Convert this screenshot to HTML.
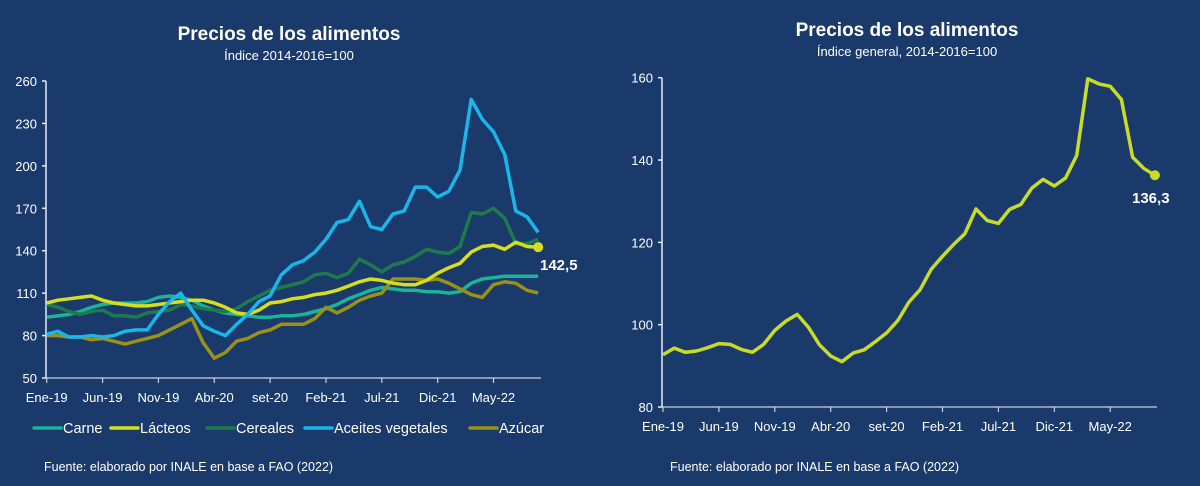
<!DOCTYPE html>
<html><head><meta charset="utf-8">
<style>
html,body{margin:0;padding:0;background:#1a3a6b;}
body{width:1200px;height:486px;overflow:hidden;font-family:"Liberation Sans",sans-serif;}
svg{display:block}
</style></head>
<body>
<svg id="chart" width="1200" height="486" xmlns="http://www.w3.org/2000/svg">
<rect x="0" y="0" width="1200" height="486" fill="#1a3a6b"/>
<text x="289" y="40" text-anchor="middle" fill="#fff" font-size="19" font-weight="bold">Precios de los alimentos</text>
<text x="289" y="60" text-anchor="middle" fill="#fff" font-size="13">Índice 2014-2016=100</text>
<text x="907" y="36" text-anchor="middle" fill="#fff" font-size="19" font-weight="bold">Precios de los alimentos</text>
<text x="907" y="56" text-anchor="middle" fill="#fff" font-size="13">Índice general, 2014-2016=100</text>
<text x="44" y="471" fill="#fff" font-size="12.5">Fuente: elaborado por INALE en base a FAO (2022)</text>
<text x="670" y="471" fill="#fff" font-size="12.5">Fuente: elaborado por INALE en base a FAO (2022)</text>
<g id="left"></g>
<g id="right"></g>
</svg>
<script>
const xLabels = ["Ene-19","Jun-19","Nov-19","Abr-20","set-20","Feb-21","Jul-21","Dic-21","May-22"];
const leftTicks = [50,80,110,140,170,200,230,260];
const rightTicks = [80,100,120,140,160];
const seriesNames = ["Carne","Lácteos","Cereales","Aceites vegetales","Azúcar"];
const carne = [93,94,95,97,100,102,103,103,103,104,107,108,107,105,101,98,96,95,94,93,93,94,94,95,97,99,102,106,109,112,114,113,112,112,111,111,110,111,117,120,121,122,122,122,122];
const lacteos = [103,105,106,107,108,105,103,102,101,101,102,103,104,105,105,103,100,96,95,98,103,104,106,107,109,110,112,115,118,120,119,117,116,116,119,124,128,131,139,143,144,141,146,143,142.5];
const cereales = [102,100,97,95,97,98,94,94,93,96,97,98,102,101,99,98,97,99,104,108,112,114,116,118,123,124,121,124,134,130,125,130,132,136,141,139,138,143,167,166,170,163,145,145,148];
const aceites = [81,83,79,79,80,79,80,83,84,84,95,104,110,98,87,83,80,88,95,104,108,123,130,133,139,148,160,162,175,157,155,166,168,185,185,178,182,197,247,233,224,208,168,164,153];
const azucar = [80,80,79,79,77,78,76,74,76,78,80,84,88,92,75,64,68,76,78,82,84,88,88,88,92,100,96,100,105,108,110,120,120,120,119,120,117,113,109,107,116,118,117,112,110];
const general = [92.7,94.3,93.3,93.6,94.4,95.4,95.2,94.0,93.3,95.2,98.6,100.9,102.5,99.4,95.1,92.4,91.0,93.1,93.9,95.9,98.0,101.0,105.5,108.5,113.5,116.6,119.5,122.1,128.1,125.3,124.6,128.0,129.2,133.2,135.3,133.7,135.6,141.1,159.7,158.5,157.9,154.7,140.7,138.0,136.3];
const leftColors = ["#1bb39a","#d6de1e","#1e7a4c","#1ab6ea","#9a9116"];

const NS="http://www.w3.org/2000/svg";
function mk(tag,attrs,parent){const e=document.createElementNS(NS,tag);for(const k in attrs)e.setAttribute(k,attrs[k]);parent.appendChild(e);return e;}

function drawAxes(g,x0,xEnd,yFn,ticks,base,xFn,prefix){
  let ax=mk('line',{x1:x0,y1:yFn(ticks[0]),x2:x0,y2:yFn(ticks[ticks.length-1]),stroke:'#e8ecf3','stroke-width':1.5},g);
  
  
  ticks.forEach(t=>{
    let tl=mk('line',{x1:x0-4,y1:yFn(t),x2:x0,y2:yFn(t),stroke:'#e8ecf3','stroke-width':1.5},g);
    
    
    let tx=mk('text',{x:x0-9,y:yFn(t)+5,'text-anchor':'end',fill:'#fff','font-size':13},g);
    tx.textContent=t;
    
    
  });
  let xa=mk('line',{x1:x0,y1:yFn(base),x2:xEnd,y2:yFn(base),stroke:'#c9d0dc','stroke-width':1.2},g);
  
  
  xLabels.forEach((l,i)=>{
    const x=xFn(i*5);
    let tl=mk('line',{x1:x,y1:yFn(base),x2:x,y2:yFn(base)+5,stroke:'#c9d0dc','stroke-width':1.2},g);
    
    
    let tx=mk('text',{x:x,y:yFn(base)+24,'text-anchor':'middle',fill:'#fff','font-size':13},g);
    tx.textContent=l;
    
    
  });
}
function line(g,arr,xFn,yFn,color,w,name){
  const p=mk('polyline',{points:arr.map((v,i)=>xFn(i).toFixed(1)+','+yFn(v).toFixed(1)).join(' '),fill:'none',stroke:color,'stroke-width':w,'stroke-linejoin':'round'},g);
  
  
  return p;
}

// Left chart
const L=document.getElementById('left');
const lx=i=>46.7+i*11.17;
const ly=v=>378-(v-50)*(297/210);
drawAxes(L,46,541,ly,leftTicks,50,lx,'left');
const leftData=[carne,lacteos,cereales,aceites,azucar];
const order=[0,4,2,1,3];
order.forEach(k=>line(L,leftData[k],lx,ly,leftColors[k],3.5,'line-'+['carne','lacteos','cereales','aceites-vegetales','azucar'][k]));
const ld=mk('circle',{cx:lx(lacteos.length-1),cy:ly(lacteos[lacteos.length-1]),r:5,fill:'#d6de1e'},L);


const lv=mk('text',{x:540,y:270,fill:'#fff','font-size':15,'font-weight':'bold'},L);
lv.textContent=String(lacteos[lacteos.length-1]).replace('.',',');


// legend
const legX=[34,111,207,305,470];
seriesNames.forEach((n,k)=>{
  const x=legX[k];
  let sw=mk('line',{x1:x,y1:428,x2:x+27,y2:428,stroke:leftColors[k],'stroke-width':3.5,'stroke-linecap':'round'},L);
  
  
  let t=mk('text',{x:x+29,y:433,fill:'#fff','font-size':14.5},L);
  t.textContent=n;
  
  
});

// Right chart
const R=document.getElementById('right');
const rx=i=>663+i*11.18;
const ry=v=>77.7+(160-v)*(329.3/80);
drawAxes(R,662,1157,ry,rightTicks,80,rx,'right');
line(R,general,rx,ry,'#c9db29',3.5,'line-indice-general');
const rd=mk('circle',{cx:rx(general.length-1),cy:ry(general[general.length-1]),r:5,fill:'#c9db29'},R);


const rv=mk('text',{x:1132,y:203,fill:'#fff','font-size':15,'font-weight':'bold'},R);
rv.textContent=String(general[general.length-1]).replace('.',',');


</script>
</body></html>
